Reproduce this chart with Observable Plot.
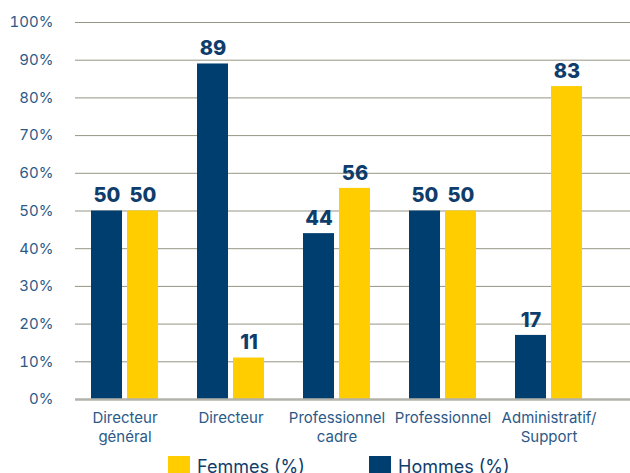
<!DOCTYPE html>
<html>
<head>
<meta charset="utf-8">
<script src="https://cdn.jsdelivr.net/npm/d3@7"></script>
<script src="https://cdn.jsdelivr.net/npm/@observablehq/plot@0.6"></script>
<style>
  html, body { margin: 0; padding: 0; background: #fff; overflow: hidden; }
  body { width: 630px; height: 473px; position: relative; font-family: Inter, "Noto Sans", sans-serif; }
  #chart { position: absolute; left: 0; top: 0; }
  .leg { position: absolute; top: 456px; display: flex; align-items: flex-start; font-size: 18px; color: #0f3d6b; }
  .sw { width: 22px; height: 22px; margin-right: 7px; }
</style>
</head>
<body>
<div id="chart"></div>
<div class="leg" style="left:168px"><div class="sw" style="background:#ffcd00"></div><span style="line-height:22px">Femmes (%)</span></div>
<div class="leg" style="left:369px"><div class="sw" style="background:#003e6f"></div><span style="line-height:22px">Hommes (%)</span></div>
<script>
const categories = ["Directeur\ngénéral", "Directeur", "Professionnel\ncadre", "Professionnel", "Administratif/\nSupport"];
const hommes = [50, 89, 44, 50, 17];
const femmes = [50, 11, 56, 50, 83];
const yTicks = [0, 10, 20, 30, 40, 50, 60, 70, 80, 90, 100];

const dataH = categories.map((c, i) => ({cat: c, v: hommes[i]}));
const dataF = categories.map((c, i) => ({cat: c, v: femmes[i]}));

const navy = "#003e6f", yellow = "#ffcd00", labelNavy = "#0f3d6b", axisBlue = "#2c5a88";

const plot = Plot.plot({
  width: 630,
  height: 455,
  marginLeft: 75,
  marginRight: 0,
  marginTop: 22,
  marginBottom: 56,
  style: {fontFamily: "Inter, 'Noto Sans', sans-serif", background: "#fff"},
  x: {domain: categories, range: [91, 582], paddingInner: 0.368, paddingOuter: 0, label: null},
  y: {domain: [0, 100], label: null},
  marks: [
    Plot.ruleY(yTicks.filter(d => d > 0), {stroke: "#959585", strokeWidth: 1}),
    Plot.barY(dataH, {x: "cat", y: "v", fill: navy, insetRight: 36}),
    Plot.barY(dataF, {x: "cat", y: "v", fill: yellow, insetLeft: 36}),
    Plot.ruleY([0], {stroke: "#b3b3ab", strokeWidth: 2.5}),
    Plot.text(dataH, {x: "cat", y: "v", text: d => String(d.v), dx: -18, dy: -15, fill: labelNavy, fontSize: 20, fontWeight: 800}),
    Plot.text(dataF, {x: "cat", y: "v", text: d => String(d.v), dx: 18, dy: -15, fill: labelNavy, fontSize: 20, fontWeight: 800}),
    Plot.axisY({ticks: yTicks, tickSize: 0, tickPadding: 22, tickFormat: d => d + "%", fontSize: 15, fill: axisBlue, color: axisBlue}),
    Plot.axisX({tickSize: 0, tickPadding: 10, fontSize: 15, fill: axisBlue, color: axisBlue, lineHeight: 1.27})
  ]
});
document.getElementById("chart").appendChild(plot);
</script>
</body>
</html>
